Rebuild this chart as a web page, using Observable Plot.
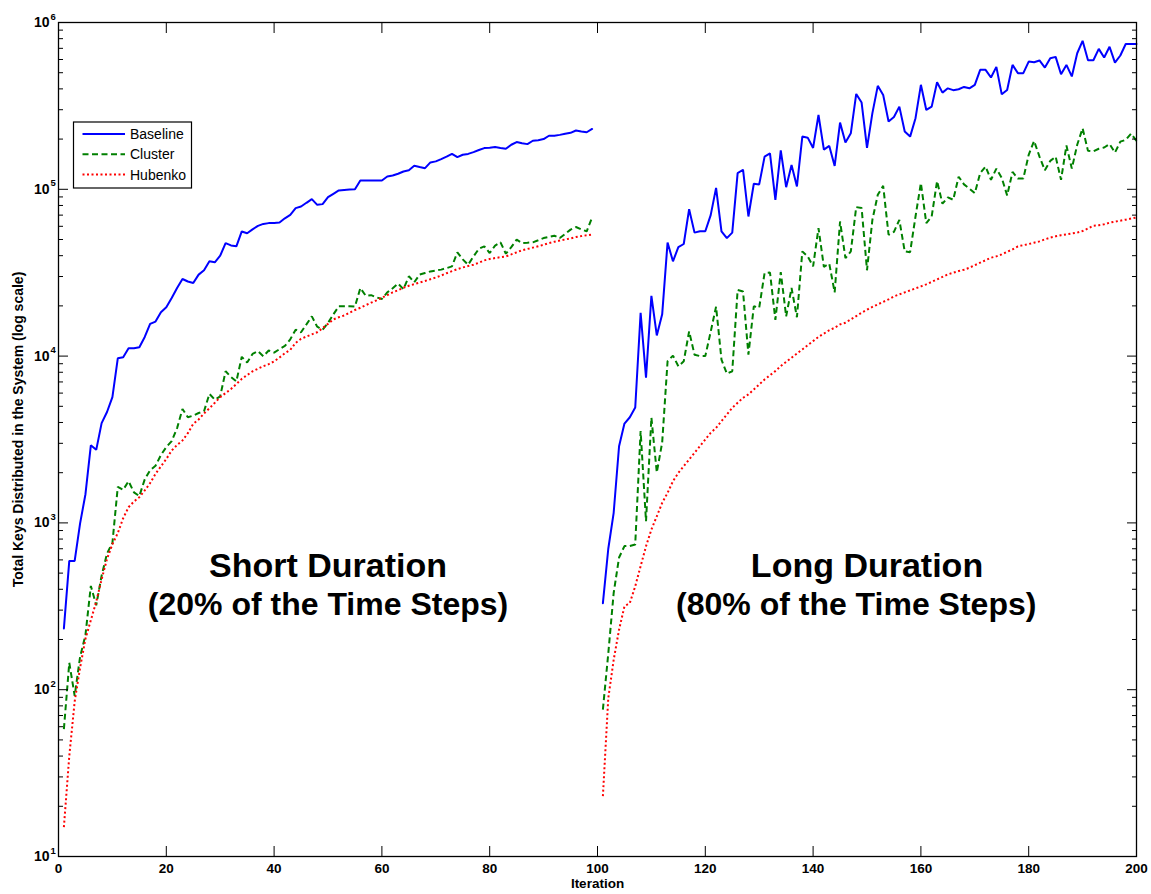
<!DOCTYPE html>
<html><head><meta charset="utf-8">
<script src="https://cdn.jsdelivr.net/npm/d3@7"></script>
<script src="https://cdn.jsdelivr.net/npm/@observablehq/plot@0.6"></script>
<style>body{margin:0;background:#fff;} #chart{width:1151px;height:894px;}</style>
</head><body><div id="chart"></div>
<script>
// ---------- data ----------
const iterLeft = d3.range(1, 100);    // iterations 1..99
const iterRight = d3.range(101, 201); // iterations 101..200

const baselineLeft = [
  233, 592, 592, 990, 1486, 2917, 2742, 3963, 4624, 5675,
  9700, 9850, 11130, 11130, 11300, 13030, 15600, 16100, 18300, 19600,
  22300, 25600, 29000, 28000, 27400, 30800, 32700, 37000, 36500, 40000,
  47600, 46100, 45500, 55900, 54500, 57500, 60400, 62000, 62700, 62900,
  63200, 67000, 70300, 77100, 78900, 83000, 87300, 80700, 81500, 89700,
  94000, 98400, 99000, 99600, 100200, 113000, 113000, 113000, 113000, 113000,
  119400, 121000, 123900, 127900, 130000, 138300, 136000, 133900, 144900, 147000,
  151700, 157000, 163300, 156000, 161100, 163000, 167100, 172000, 176600, 177500,
  179100, 177000, 175000, 185000, 191900, 189000, 186600, 195400, 197000, 200000,
  209400, 209400, 212000, 215300, 218000, 225100, 222000, 219800, 230100
];
const clusterLeft = [
  58, 145, 92, 157, 213, 419, 321, 483, 656, 757,
  1646, 1580, 1778, 1525, 1449, 1824, 2072, 2200, 2550, 2850,
  3090, 3700, 4820, 4300, 4400, 4560, 4670, 5930, 5480, 5740,
  8110, 7500, 7060, 9900, 9150, 10300, 10700, 9980, 10800, 10500,
  11000, 11500, 12600, 14400, 13900, 15500, 17300, 15000, 14400, 15800,
  17800, 19900, 19900, 19900, 19800, 25600, 23000, 23200, 22500, 22000,
  24100, 25500, 27200, 25200, 30100, 27700, 30800, 31500, 32200, 32600,
  33000, 33700, 34500, 41900, 38000, 35300, 39600, 44000, 45500, 41500,
  46000, 48100, 41100, 45000, 49900, 47600, 47800, 48100, 49500, 51000,
  51800, 52700, 51000, 54000, 57300, 59400, 57500, 56000, 67900
];
const hubenkoLeft = [
  15, 40, 85, 135, 202, 261, 337, 459, 608, 745,
  869, 1067, 1242, 1343, 1426, 1565, 1733, 1968, 2181, 2415,
  2716, 2933, 3119, 3451, 3926, 4169, 4529, 4864, 5248, 5672,
  6000, 6350, 6800, 7300, 7700, 8100, 8400, 8700, 8950, 9300,
  9800, 10400, 10900, 12000, 12700, 13100, 13500, 13900, 14700, 15600,
  16600, 17100, 17500, 18200, 18900, 19500, 20200, 20900, 21600, 22400,
  23200, 24100, 24800, 25700, 26400, 27000, 27600, 28200, 28900, 29600,
  30400, 31400, 32300, 33200, 34000, 34700, 35300, 36300, 37500, 38200,
  38700, 39200, 39600, 40700, 41900, 43100, 43900, 44700, 45500, 46500,
  47600, 48500, 49300, 50000, 50800, 51700, 52400, 53000, 53600
];
const baselineRight = [
  330, 700, 1150, 2880, 3940, 4300, 4920, 18200, 7430, 23000,
  13300, 17800, 48000, 37000, 45000, 47000, 76000, 55000, 56000, 56000,
  70000, 102000, 56000, 51000, 55000, 125000, 131000, 68700, 108000, 107000,
  157000, 164000, 86500, 171000, 103000, 140000, 104000, 207000, 204000, 177000,
  279000, 173000, 182000, 138000, 251000, 191000, 217000, 373000, 331000, 177000,
  286000, 417000, 368000, 255000, 271000, 313000, 222000, 207000, 267000, 423000,
  299000, 313000, 438000, 380000, 403000, 393000, 398000, 411000, 403000, 423000,
  520000, 520000, 468000, 542000, 371000, 394000, 557000, 497000, 497000, 583000,
  578000, 592000, 537000, 611000, 622000, 490000, 557000, 475000, 654000, 777000,
  594000, 594000, 695000, 617000, 716000, 575000, 634000, 743000, 743000, 743000
];
const clusterRight = [
  76, 165, 380, 620, 726, 727, 743, 3550, 1023, 4280,
  2005, 3035, 9310, 10070, 8690, 9310, 14070, 10200, 10000, 10000,
  14000, 19800, 9530, 7850, 8110, 24900, 24400, 10200, 19900, 19500,
  31500, 31700, 16500, 31900, 17300, 25600, 17100, 42400, 39600, 34500,
  58600, 34300, 35800, 24100, 64100, 38700, 42400, 78200, 77300, 32700,
  65600, 92700, 105000, 53400, 55600, 65600, 42400, 42000, 68700, 109000,
  62600, 68700, 112000, 82000, 89500, 86500, 119000, 107000, 101000, 94800,
  125000, 137000, 114000, 133000, 117000, 91900, 127000, 116000, 116000, 161000,
  195000, 157000, 130000, 148000, 157000, 114000, 183000, 133000, 185000, 232000,
  170000, 169000, 175000, 178000, 187000, 166000, 193000, 198000, 216000, 195000
];
const hubenkoRight = [
  23, 89, 151, 229, 316, 331, 417, 550, 724, 912,
  1096, 1318, 1514, 1778, 1995, 2188, 2399, 2630, 2884, 3162,
  3467, 3715, 4074, 4467, 4898, 5248, 5623, 5888, 6310, 6761,
  7244, 7674, 8128, 8710, 9226, 9772, 10350, 10960, 11610, 12300,
  13030, 13650, 14290, 14790, 15490, 15850, 16600, 17380, 18200, 18970,
  19720, 20420, 21140, 21880, 22800, 23440, 24100, 24770, 25470, 26180,
  26920, 27860, 28840, 29850, 30900, 31620, 32360, 32960, 33880, 35080,
  36310, 37580, 38900, 39630, 40740, 42170, 43650, 45500, 46240, 46990,
  47860, 48750, 50120, 51290, 52240, 53090, 53700, 54330, 54950, 56230,
  58210, 60530, 60950, 61660, 63100, 63970, 64860, 65770, 66830, 67760
];

const seriesNames = ["Baseline", "Cluster", "Hubenko"];
const seriesColors = ["#0000ff", "#008000", "#ff0000"];
const seriesDash = [null, "6,3.5", "2,2.5"];

const xTicks = [0, 20, 40, 60, 80, 100, 120, 140, 160, 180, 200];
const yMajor = [10, 100, 1000, 10000, 100000, 1000000];
const yExponents = ["1", "2", "3", "4", "5", "6"];
const yMinorMultipliers = [2, 3, 4, 5, 6, 7, 8, 9];

const annoText = ["Short Duration", "(20% of the Time Steps)", "Long Duration", "(80% of the Time Steps)"];
const annoX = [50, 50, 150, 148];
const annoY = [550, 325, 550, 325];
const annoSize = [34, 32, 34, 32];

const xLabel = "Iteration";
const yLabel = "Total Keys Distributed in the System (log scale)";

// ---------- build ----------
function rows(name, xs, vs, seg) {
  return vs.map((v, i) => ({series: name, x: xs[i], y: v, seg}));
}
const data = [
  [rows("Baseline", iterLeft, baselineLeft, "L"), rows("Baseline", iterRight, baselineRight, "R")],
  [rows("Cluster", iterLeft, clusterLeft, "L"), rows("Cluster", iterRight, clusterRight, "R")],
  [rows("Hubenko", iterLeft, hubenkoLeft, "L"), rows("Hubenko", iterRight, hubenkoRight, "R")]
].map(p => p[0].concat(p[1]));

const yMinor = [];
yMajor.slice(0, -1).forEach(d => yMinorMultipliers.forEach(m => yMinor.push(d * m)));

const font = "'Liberation Sans', Arial, Helvetica, sans-serif";
const annos = annoText.map((t, i) => ({t, x: annoX[i], y: annoY[i], s: annoSize[i]}));

const lineMarks = data.map((rowsArr, i) => Plot.line(rowsArr, {
  x: "x", y: "y", z: "seg",
  stroke: seriesColors[i], strokeWidth: 2,
  strokeDasharray: seriesDash[i],
  strokeLinecap: i === 0 ? "round" : "butt",
  strokeLinejoin: "miter"
}));

const plot = Plot.plot({
  width: 1151, height: 894,
  marginTop: 22, marginBottom: 38, marginLeft: 58, marginRight: 15,
  style: {fontFamily: font, background: "white", color: "black"},
  x: {domain: [0, 200]},
  y: {type: "log", domain: [10, 1e6]},
  marks: [
    ...lineMarks,
    Plot.text(annos.filter(d => d.s === 34), {x: "x", y: "y", text: "t", fontSize: 34, fontWeight: "bold", fill: "black"}),
    Plot.text(annos.filter(d => d.s === 32), {x: "x", y: "y", text: "t", fontSize: 32, fontWeight: "bold", fill: "black"}),
    Plot.axisX({anchor: "bottom", ticks: xTicks, tickSize: -10, tickPadding: 17, fontSize: 13.5, fontWeight: "bold", label: null, tickFormat: d => String(d)}),
    Plot.axisX({anchor: "top", ticks: xTicks, tickSize: -10, tickFormat: () => "", label: null}),
    Plot.axisY({anchor: "left", ticks: yMajor, tickSize: -10, tickPadding: 19, fontSize: 14, fontWeight: "bold", label: null, tickFormat: () => "10"}),
    Plot.axisY({anchor: "left", ticks: yMinor, tickSize: -5, tickFormat: () => "", label: null}),
    Plot.axisY({anchor: "right", ticks: yMajor, tickSize: -10, tickFormat: () => "", label: null}),
    Plot.axisY({anchor: "right", ticks: yMinor, tickSize: -5, tickFormat: () => "", label: null}),
    Plot.text(yMajor, {y: d => d, text: (d, i) => yExponents[i], frameAnchor: "left", dx: -8, dy: -6, textAnchor: "start", fontSize: 9.5, fontWeight: "bold"}),
    Plot.text([xLabel], {text: d => d, frameAnchor: "bottom", textAnchor: "middle", dy: 31, fontSize: 13.5, fontWeight: "bold"}),
    Plot.text([yLabel], {text: d => d, frameAnchor: "left", textAnchor: "middle", dx: -40, dy: -10, rotate: -90, fontSize: 14, fontWeight: "bold"}),
    Plot.frame({stroke: "black", strokeWidth: 1.3})
  ]
});

// legend
const svg = d3.select(plot);
const lg = svg.append("g").attr("font-family", font).attr("font-size", 14).attr("text-anchor", "start");
lg.append("rect").attr("x", 73.5).attr("y", 122).attr("width", 118).attr("height", 66)
  .attr("fill", "white").attr("stroke", "black").attr("stroke-width", 1.2);
seriesNames.forEach((name, i) => {
  const cy = 134 + i * 20.3;
  lg.append("line").attr("x1", 82.5).attr("x2", 125).attr("y1", cy).attr("y2", cy)
    .attr("stroke", seriesColors[i]).attr("stroke-width", 2)
    .attr("stroke-dasharray", seriesDash[i]);
  lg.append("text").attr("x", 130).attr("y", cy).attr("dy", "0.35em")
    .attr("text-anchor", "start").attr("fill", "black").text(name);
});

document.getElementById("chart").appendChild(plot);
</script>
</body></html>
